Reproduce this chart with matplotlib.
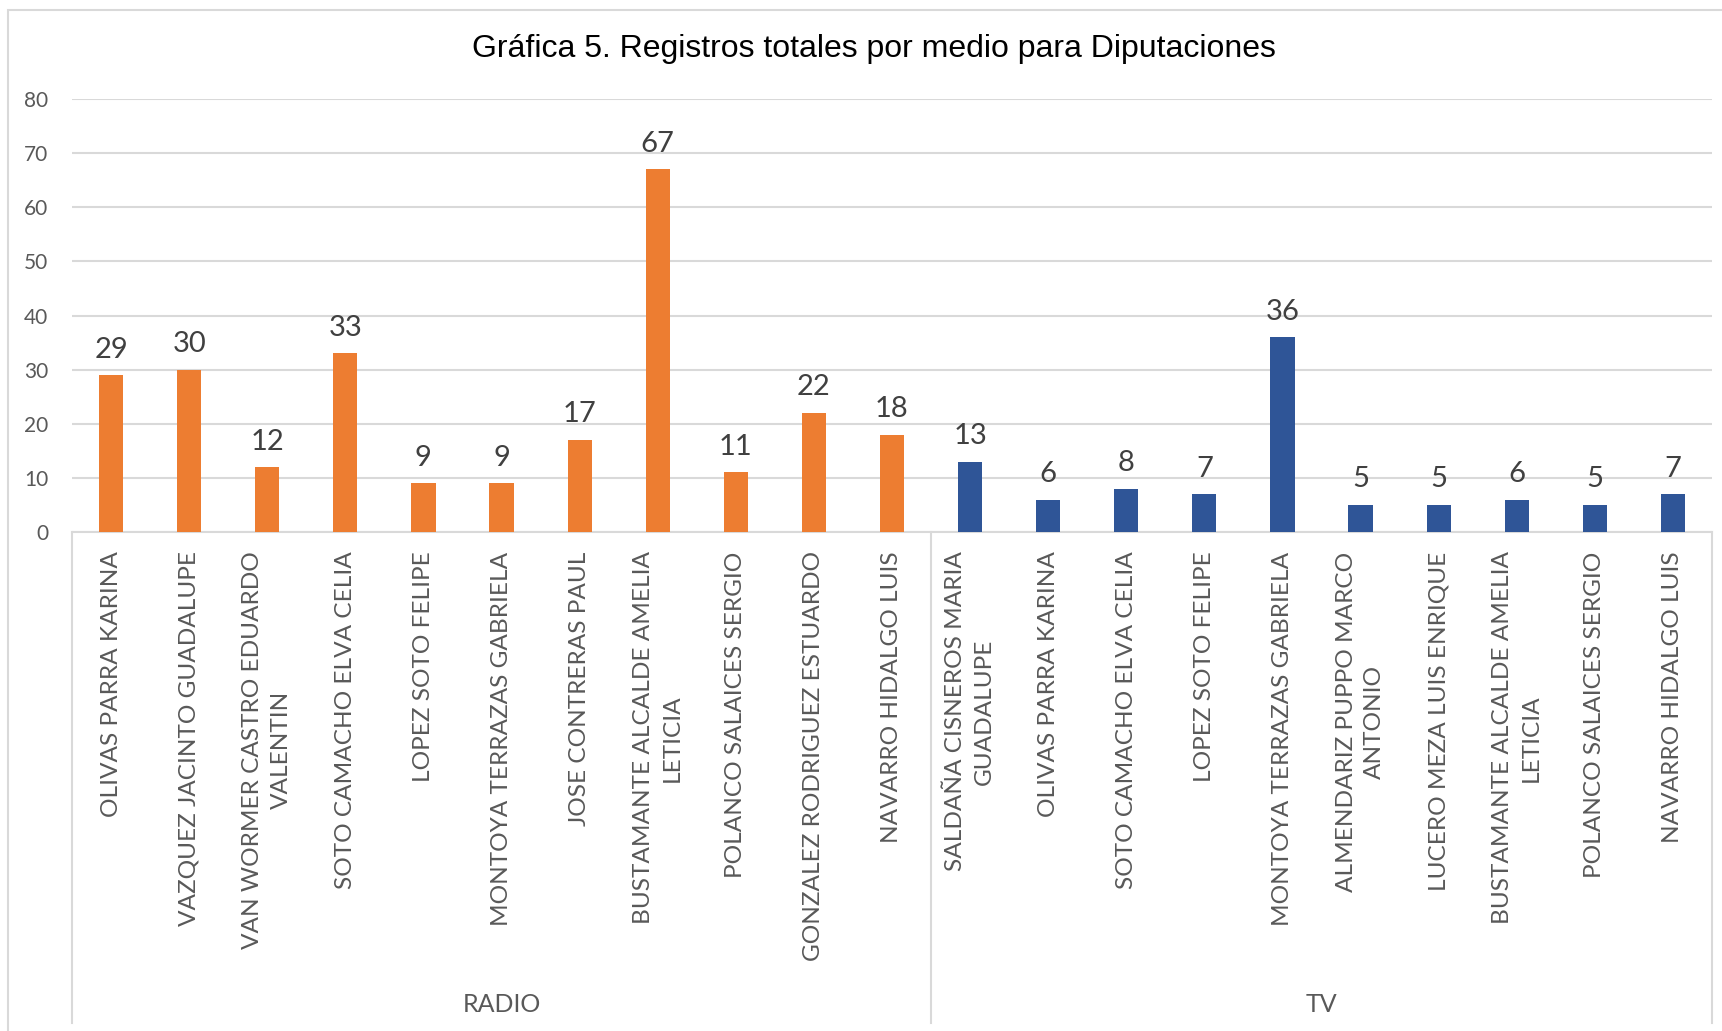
import matplotlib
matplotlib.use("Agg")
import matplotlib.pyplot as plt
from matplotlib.patches import Rectangle

# data
radio_names = ["OLIVAS PARRA KARINA", "VAZQUEZ JACINTO GUADALUPE",
               "VAN WORMER CASTRO EDUARDO\nVALENTIN", "SOTO CAMACHO ELVA CELIA",
               "LOPEZ SOTO FELIPE", "MONTOYA TERRAZAS GABRIELA",
               "JOSE CONTRERAS PAUL", "BUSTAMANTE ALCALDE AMELIA\nLETICIA",
               "POLANCO SALAICES SERGIO", "GONZALEZ RODRIGUEZ ESTUARDO",
               "NAVARRO HIDALGO LUIS"]
radio_vals = [29, 30, 12, 33, 9, 9, 17, 67, 11, 22, 18]

tv_names = ["SALDAÑA CISNEROS MARIA\nGUADALUPE", "OLIVAS PARRA KARINA",
            "SOTO CAMACHO ELVA CELIA", "LOPEZ SOTO FELIPE",
            "MONTOYA TERRAZAS GABRIELA", "ALMENDARIZ PUPPO MARCO\nANTONIO",
            "LUCERO MEZA LUIS ENRIQUE", "BUSTAMANTE ALCALDE AMELIA\nLETICIA",
            "POLANCO SALAICES SERGIO", "NAVARRO HIDALGO LUIS"]
tv_vals = [13, 6, 8, 7, 36, 5, 5, 6, 5, 7]

groups = ["RADIO", "TV"]
yticks = [0, 10, 20, 30, 40, 50, 60, 70, 80]

ORANGE = "#ED7D31"
BLUE = "#2F5597"
GRID = "#D9D9D9"
TXT = "#595959"
LBL = "#404040"
FONT = "Lato"

W, H = 1722, 1031
fig = plt.figure(figsize=(W / 100, H / 100), dpi=100)
fig.patch.set_facecolor("white")

# axes box in pixels: left 72, right 1712, top 99, bottom 532
ax = fig.add_axes([72 / W, 1 - 532 / H, (1712 - 72) / W, (532 - 99) / H])

names = radio_names + tv_names
vals = radio_vals + tv_vals
colors = [ORANGE] * len(radio_vals) + [BLUE] * len(tv_vals)
x = list(range(len(vals)))

bars = ax.bar(x, vals, width=0.31, color=colors, zorder=3)
for b, v in zip(bars, vals):
    ax.annotate(str(v), (b.get_x() + b.get_width() / 2, v), xytext=(0, 9),
                textcoords="offset points", ha="center", va="bottom",
                fontsize=21, color=LBL, family=FONT)

ax.set_xlim(-0.5, len(vals) - 0.5)
ax.set_ylim(0, 80)
ax.set_yticks(yticks)
ax.set_yticklabels([str(t) for t in yticks], fontsize=15, color=TXT, family=FONT)
ax.tick_params(axis="y", length=0, pad=17)
ax.grid(axis="y", color=GRID, linewidth=1.5, zorder=0)
ax.set_axisbelow(True)

ax.set_xticks(x)
ax.set_xticklabels(names, rotation=90, ha="center", va="top",
                   multialignment="center", fontsize=17.6, color=TXT,
                   family=FONT, linespacing=1.45)
ax.tick_params(axis="x", length=0, pad=14)

for s in ["top", "right", "left"]:
    ax.spines[s].set_visible(False)
ax.spines["bottom"].set_color(GRID)
ax.spines["bottom"].set_linewidth(1.5)

# multi-level category axis: separators and group names
tr = ax.get_xaxis_transform()
bottom = -(1023 - 532) / (532 - 99)
for xb in [-0.5, len(radio_vals) - 0.5, len(vals) - 0.5]:
    ax.plot([xb, xb], [0, bottom], transform=tr, color=GRID, lw=1.5,
            clip_on=False, zorder=1)
label_y = -(1004 - 532) / (532 - 99)
ax.text((len(radio_vals) - 1) / 2, label_y, groups[0], transform=tr,
        ha="center", va="center", fontsize=18, color=TXT, family=FONT)
ax.text(len(radio_vals) + (len(tv_vals) - 1) / 2, label_y, groups[1],
        transform=tr, ha="center", va="center", fontsize=18, color=TXT,
        family=FONT)

fig.text(874 / W, 1 - 49 / H,
         "Gráfica 5. Registros totales por medio para Diputaciones",
         ha="center", va="center", fontsize=23, color="black",
         family="Liberation Sans")

# chart area border (runs off the right and bottom edge)
fig.add_artist(Rectangle((8 / W, -0.05), 1.1, 1 - 10 / H + 0.05,
                         transform=fig.transFigure, fill=False,
                         edgecolor=GRID, linewidth=1.5))

fig.savefig("out.png", dpi=100)
